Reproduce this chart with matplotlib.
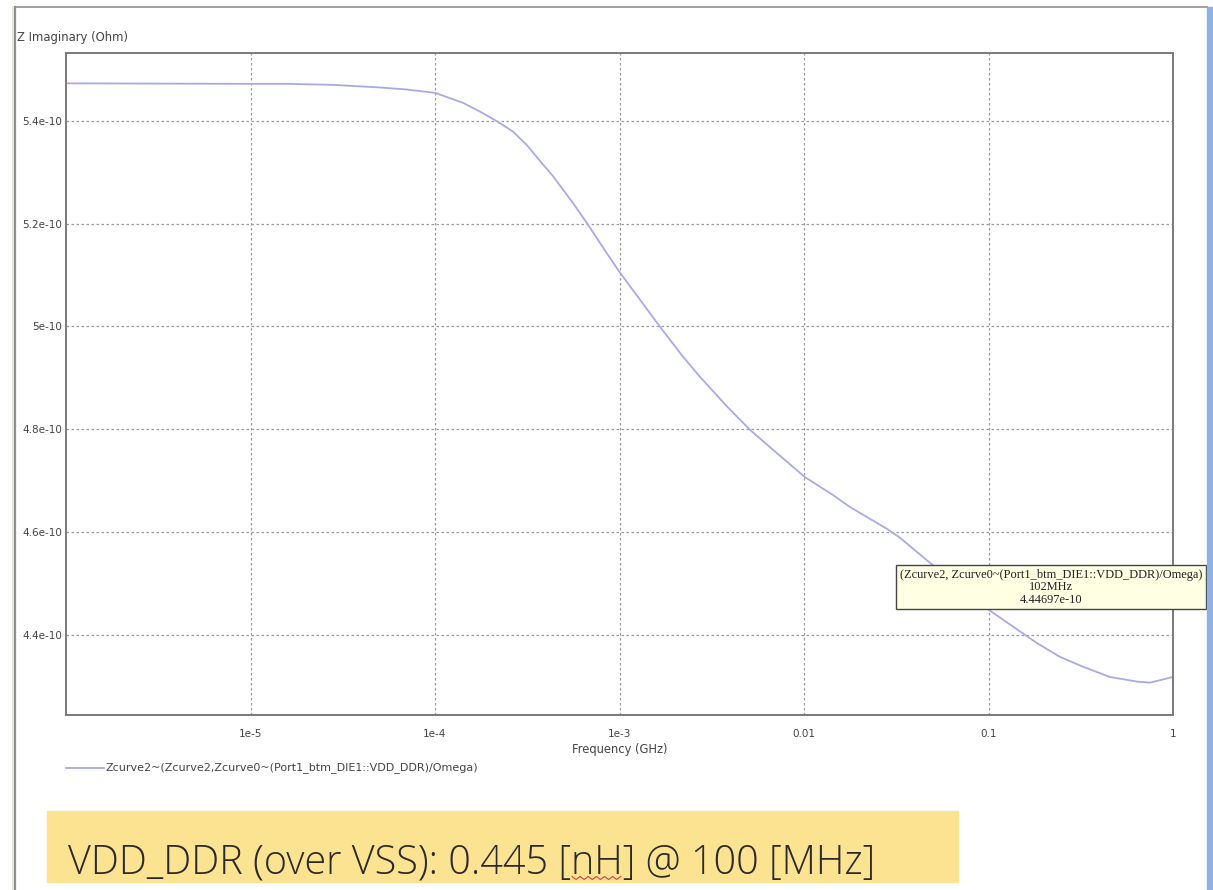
import numpy as np
import matplotlib.pyplot as plt
from matplotlib.patches import Rectangle
from matplotlib.lines import Line2D

# Frequency (GHz) and Z imaginary / omega (Ohm)
freq_ghz = [1.0e-6, 9.9e-6, 1.6e-5, 2.8e-5, 5.0e-5, 7.0e-5, 1.0e-4, 1.42e-4,
            1.754e-4, 2.17e-4, 2.65e-4, 3.16e-4, 3.71e-4, 4.37e-4, 5.6e-4,
            6.75e-4, 8.55e-4, 1.0e-3, 1.66e-3, 2.21e-3, 2.73e-3, 3.83e-3,
            5.09e-3, 6.79e-3, 1.01e-2, 1.436e-2, 1.77e-2, 2.82e-2, 3.31e-2,
            4.82e-2, 0.102, 0.1358, 0.183, 0.2443, 0.325, 0.455, 0.638, 0.75,
            1.0]
z_imag = [5.473e-10, 5.472e-10, 5.472e-10, 5.470e-10, 5.465e-10, 5.461e-10,
          5.4545e-10, 5.435e-10, 5.418e-10, 5.399e-10, 5.379e-10, 5.352e-10,
          5.322e-10, 5.292e-10, 5.240e-10, 5.198e-10, 5.142e-10, 5.106e-10,
          4.999e-10, 4.941e-10, 4.902e-10, 4.844e-10, 4.799e-10, 4.760e-10,
          4.707e-10, 4.672e-10, 4.649e-10, 4.606e-10, 4.589e-10, 4.540e-10,
          4.4469e-10, 4.416e-10, 4.384e-10, 4.357e-10, 4.338e-10, 4.318e-10,
          4.309e-10, 4.307e-10, 4.318e-10]

x_ticks = [1e-5, 1e-4, 1e-3, 1e-2, 1e-1, 1]
x_labels = ['1e-5', '1e-4', '1e-3', '0.01', '0.1', '1']
y_ticks = [4.4e-10, 4.6e-10, 4.8e-10, 5.0e-10, 5.2e-10, 5.4e-10]
y_labels = ['4.4e-10', '4.6e-10', '4.8e-10', '5e-10', '5.2e-10', '5.4e-10']

series_name = 'Zcurve2~(Zcurve2,Zcurve0~(Port1_btm_DIE1::VDD_DDR)/Omega)'
marker_text = '(Zcurve2, Zcurve0~(Port1_btm_DIE1::VDD_DDR)/Omega)\n102MHz\n4.44697e-10'
note_text = 'VDD_DDR (over VSS): 0.445 [nH] @ 100 [MHz]'

W, H = 1213, 890
fig = plt.figure(figsize=(W / 100, H / 100), dpi=100)
fig.patch.set_facecolor('white')

ax = fig.add_axes([66 / W, 1 - 715 / H, (1173 - 66) / W, (715 - 53) / H])
line_color = '#a9a9e6'
ax.plot(freq_ghz, z_imag, color=line_color, lw=1.3)
ax.set_xscale('log')
ax.set_xlim(1e-6, 1)
ax.set_ylim(4.244e-10, 5.532e-10)

ax.set_xticks(x_ticks)
ax.set_xticklabels(x_labels)
ax.xaxis.set_minor_locator(plt.NullLocator())
ax.set_yticks(y_ticks)
ax.set_yticklabels(y_labels)
ax.tick_params(length=0, labelsize=7.5, labelcolor='#444444', pad=3)
ax.tick_params(axis='x', pad=10)
ax.grid(True, color='#9a9a9a', linestyle=(0, (2, 2)), lw=0.9)
for s in ax.spines.values():
    s.set_color('#7a7a7a')
    s.set_linewidth(1.4)

ax.set_xlabel('Frequency (GHz)', fontsize=8.3, color='#444444', labelpad=3)
fig.text(17 / W, 1 - 38 / H, 'Z Imaginary (Ohm)', fontsize=8.4,
         color='#444444', va='center', ha='left')

# legend row
fig.add_artist(Line2D([66 / W, 104 / W], [1 - 768 / H, 1 - 768 / H],
                      color=line_color, lw=1.3))
fig.text(106 / W, 1 - 768 / H, series_name, fontsize=8.0, color='#444444',
         va='center', ha='left')

# data marker tooltip
ax.text(0.890, 0.193, marker_text, transform=ax.transAxes, ha='center',
        va='center', fontsize=8.9, family='Liberation Serif', color='#222222',
        linespacing=1.05,
        bbox=dict(boxstyle='square,pad=0.3', fc='#ffffe4', ec='#444444', lw=1.0))

# window frame
fig.add_artist(Line2D([15 / W, 15 / W], [0, 1 - 7 / H], color='#8f8f8f', lw=1.6))
fig.add_artist(Line2D([13 / W, 13 / W], [0, 1 - 7 / H], color='#e2e2d4', lw=1.2))
fig.add_artist(Line2D([15 / W, 1207 / W], [1 - 7 / H, 1 - 7 / H], color='#8f8f8f', lw=1.2))
fig.add_artist(Rectangle((1207 / W, 0), 6 / W, 1 - 7 / H, color='#8fb2e3',
                         transform=fig.transFigure))

# yellow note box
fig.add_artist(Rectangle((47 / W, 1 - 882 / H), (958 - 47) / W, (882 - 811) / H,
                         color='#fbe391', transform=fig.transFigure, zorder=1))
note_kw = dict(fontsize=28.5, va='baseline', ha='left', family='Open Sans',
               weight='light')
base_y = 1 - 873 / H
fig.text(68 / W, base_y, note_text, color='#2a2a2a', zorder=2, **note_kw)

# spell-check squiggle under "nH", placed from the measured text width
renderer = fig.canvas.get_renderer()
probe = fig.text(68 / W, base_y, 'VDD_DDR (over VSS): 0.445 [', alpha=0, **note_kw)
probe2 = fig.text(68 / W, base_y, 'VDD_DDR (over VSS): 0.445 [nH', alpha=0, **note_kw)
x0 = probe.get_window_extent(renderer).x1
x1 = probe2.get_window_extent(renderer).x1
probe.remove()
probe2.remove()
sx = np.linspace(x0 + 1, x1 - 2, 13)
sy = (H - 878) + 1.5 * np.array([(-1) ** i for i in range(13)])
fig.add_artist(Line2D(sx / W, sy / H, color='#e04040', lw=0.8, zorder=3))

plt.savefig('out.png', dpi=100)
